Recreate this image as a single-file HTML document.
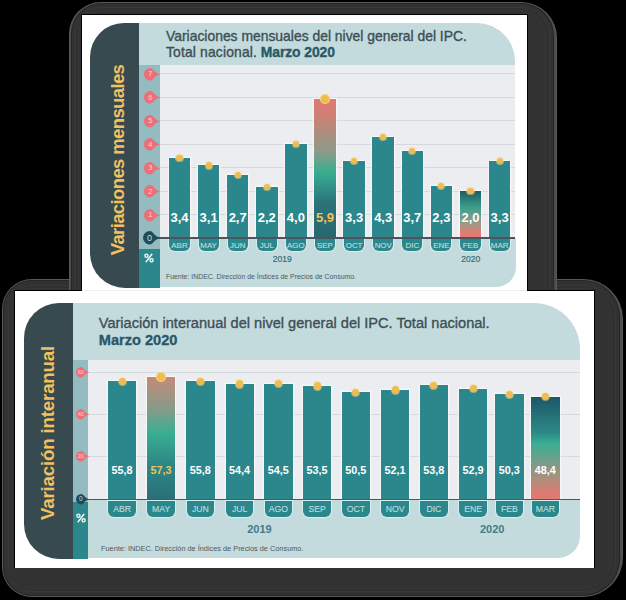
<!DOCTYPE html>
<html><head><meta charset="utf-8"><style>
html,body{margin:0;padding:0;width:626px;height:600px;overflow:hidden;background:#000;}
</style></head><body>
<div style="position:relative;width:626px;height:600px;overflow:hidden;">
<div style="position:absolute;left:0;top:0;width:626px;height:600px;background:#000;"></div>
<div style="position:absolute;left:2.00px;top:279.00px;width:621.20px;height:318.00px;background:#585858;border-radius:30px 40px 40px 30px;"></div>
<div style="position:absolute;left:2.90px;top:279.90px;width:619.40px;height:316.20px;background:#4b4b4b;border-radius:29.1px 39.1px 39.1px 29.1px;"></div>
<div style="position:absolute;left:3.20px;top:280.20px;width:616.80px;height:315.60px;background:#262626;border-radius:28.8px 36.8px 36.8px 28.8px;"></div>
<div style="position:absolute;left:4.20px;top:281.20px;width:614.80px;height:313.60px;background:#323232;border-radius:27.8px 35.8px 35.8px 27.8px;"></div>
<div style="position:absolute;left:7.50px;top:284.50px;width:608.20px;height:307.00px;background:#383838;border-radius:24.5px 32.5px 32.5px 24.5px;"></div>
<div style="position:absolute;left:8.50px;top:285.50px;width:606.20px;height:305.00px;background:#303030;border-radius:23.5px 31.5px 31.5px 23.5px;"></div>
<div style="position:absolute;left:10.50px;top:287.50px;width:601.70px;height:301.00px;background:#373737;border-radius:21.5px 29px 29px 21.5px;"></div>
<div style="position:absolute;left:11.50px;top:288.50px;width:599.70px;height:299.00px;background:#323232;border-radius:20.5px 28px 28px 20.5px;"></div>
<div style="position:absolute;left:69.30px;top:1.80px;width:488.00px;height:328.20px;background:#585858;border-radius:32px 36px 36px 32px;"></div>
<div style="position:absolute;left:70.20px;top:2.70px;width:486.20px;height:326.40px;background:#4b4b4b;border-radius:31.1px 35.1px 35.1px 31.1px;"></div>
<div style="position:absolute;left:70.50px;top:3.00px;width:483.60px;height:325.80px;background:#262626;border-radius:30.8px 32.8px 32.8px 30.8px;"></div>
<div style="position:absolute;left:71.50px;top:4.00px;width:481.60px;height:323.80px;background:#323232;border-radius:29.8px 31.8px 31.8px 29.8px;"></div>
<div style="position:absolute;left:74.80px;top:7.30px;width:475.00px;height:317.20px;background:#383838;border-radius:26.5px 28.5px 28.5px 26.5px;"></div>
<div style="position:absolute;left:75.80px;top:8.30px;width:473.00px;height:315.20px;background:#303030;border-radius:25.5px 27.5px 27.5px 25.5px;"></div>
<div style="position:absolute;left:77.80px;top:10.30px;width:468.50px;height:311.20px;background:#373737;border-radius:23.5px 25px 25px 23.5px;"></div>
<div style="position:absolute;left:78.80px;top:11.30px;width:466.50px;height:309.20px;background:#323232;border-radius:22.5px 24px 24px 22.5px;"></div>
<div style="position:absolute;left:81.00px;top:13.70px;width:447.00px;height:290.00px;background:#000;"></div>
<div style="position:absolute;left:82.00px;top:14.50px;width:445.00px;height:277.00px;background:#fff;"></div>
<div style="position:absolute;left:89.50px;top:23.00px;width:60.00px;height:264.50px;background:#374a4f;border-radius:34px 0 0 35px;"></div>
<div style="position:absolute;left:139.00px;top:23.00px;width:375.50px;height:41.50px;background:#c4dbde;border-radius:0 38px 0 0;"></div>
<div style="position:absolute;left:139.00px;top:64.50px;width:20.50px;height:184.00px;background:#94bbc0;"></div>
<div style="position:absolute;left:139.00px;top:248.50px;width:20.50px;height:39.00px;background:#2c878d;"></div>
<div style="position:absolute;left:159.50px;top:64.50px;width:355.00px;height:173.50px;background:#ecedf0;"></div>
<div style="position:absolute;left:159.50px;top:238.00px;width:356.25px;height:48.50px;background:#c4dbde;border-radius:0 0 20px 0;"></div>
<div style="position:absolute;left:159.50px;top:214.20px;width:355.00px;height:1.20px;background:#d6d9dc;"></div>
<div style="position:absolute;left:159.50px;top:190.70px;width:355.00px;height:1.20px;background:#d6d9dc;"></div>
<div style="position:absolute;left:159.50px;top:167.20px;width:355.00px;height:1.20px;background:#d6d9dc;"></div>
<div style="position:absolute;left:159.50px;top:143.70px;width:355.00px;height:1.20px;background:#d6d9dc;"></div>
<div style="position:absolute;left:159.50px;top:120.20px;width:355.00px;height:1.20px;background:#d6d9dc;"></div>
<div style="position:absolute;left:159.50px;top:96.70px;width:355.00px;height:1.20px;background:#d6d9dc;"></div>
<div style="position:absolute;left:159.50px;top:73.20px;width:355.00px;height:1.20px;background:#d6d9dc;"></div>
<div style="position:absolute;left:166.00px;top:28.00px;white-space:nowrap;line-height:1;font-family:'Liberation Sans', sans-serif;font-size:13.9px;line-height:16.3px;color:#3d4f55;-webkit-text-stroke:0.35px #3d4f55;">Variaciones mensuales del nivel general del IPC.<br><span style="letter-spacing:0.15px">Total nacional.</span><b style="color:#1f5d6c;margin-left:3.7px;letter-spacing:-0.08px">Marzo 2020</b></div>
<div style="position:absolute;left:118.2px;top:160.3px;width:0;height:0;"><div style="position:absolute;left:0;top:0;transform:translate(-50%,-50%) rotate(-90deg);white-space:nowrap;font-family:'Liberation Sans', sans-serif;font-weight:bold;font-size:18.5px;letter-spacing:-0.62px;line-height:1;color:#f2c060;">Variaciones mensuales</div></div>
<svg style="position:absolute;left:143.25px;top:251.50px" width="12" height="12" viewBox="-6 -6 12 12"><g transform="scale(1.0)" fill="none" stroke="#eef6f6"><circle cx="-2.6" cy="-2.3" r="1.55" stroke-width="1.4"/><circle cx="2.6" cy="2.3" r="1.55" stroke-width="1.4"/><path d="M3.2,-4.3 L-3.2,4.3" stroke-width="1.5"/></g></svg>
<div style="position:absolute;left:168.75px;top:158.40px;width:21.50px;height:79.20px;background:#2c878d;box-shadow:0 0 1.2px 0.6px rgba(255,255,255,0.7);"></div>
<div style="position:absolute;left:176.40px;top:155.30px;width:6.20px;height:6.20px;background:#f0bb4f;border-radius:50%;box-shadow:0 0 0 1px rgba(250,215,140,0.55);"></div>
<div style="position:absolute;left:164.50px;top:210.50px;white-space:nowrap;line-height:1;width:30.00px;text-align:center;font-family:'Liberation Sans', sans-serif;font-weight:bold;font-size:13px;color:#fff;">3,4</div>
<div style="position:absolute;left:169.40px;top:239.20px;width:20.20px;height:12.20px;background:#2c878d;border-radius:0 0 6px 6px;box-shadow:0 0 0 1px #d6eeee;"></div>
<div style="position:absolute;left:164.40px;top:241.55px;white-space:nowrap;line-height:1;width:30.20px;text-align:center;font-family:'Liberation Sans', sans-serif;font-size:7.9px;color:#b8dcdc;-webkit-text-stroke:0.15px #b8dcdc;">ABR</div>
<div style="position:absolute;left:197.85px;top:165.45px;width:21.50px;height:72.15px;background:#2c878d;box-shadow:0 0 1.2px 0.6px rgba(255,255,255,0.7);"></div>
<div style="position:absolute;left:205.50px;top:162.35px;width:6.20px;height:6.20px;background:#f0bb4f;border-radius:50%;box-shadow:0 0 0 1px rgba(250,215,140,0.55);"></div>
<div style="position:absolute;left:193.60px;top:210.50px;white-space:nowrap;line-height:1;width:30.00px;text-align:center;font-family:'Liberation Sans', sans-serif;font-weight:bold;font-size:13px;color:#fff;">3,1</div>
<div style="position:absolute;left:198.50px;top:239.20px;width:20.20px;height:12.20px;background:#2c878d;border-radius:0 0 6px 6px;box-shadow:0 0 0 1px #d6eeee;"></div>
<div style="position:absolute;left:193.50px;top:241.55px;white-space:nowrap;line-height:1;width:30.20px;text-align:center;font-family:'Liberation Sans', sans-serif;font-size:7.9px;color:#b8dcdc;-webkit-text-stroke:0.15px #b8dcdc;">MAY</div>
<div style="position:absolute;left:226.95px;top:174.85px;width:21.50px;height:62.75px;background:#2c878d;box-shadow:0 0 1.2px 0.6px rgba(255,255,255,0.7);"></div>
<div style="position:absolute;left:234.60px;top:171.75px;width:6.20px;height:6.20px;background:#f0bb4f;border-radius:50%;box-shadow:0 0 0 1px rgba(250,215,140,0.55);"></div>
<div style="position:absolute;left:222.70px;top:210.50px;white-space:nowrap;line-height:1;width:30.00px;text-align:center;font-family:'Liberation Sans', sans-serif;font-weight:bold;font-size:13px;color:#fff;">2,7</div>
<div style="position:absolute;left:227.60px;top:239.20px;width:20.20px;height:12.20px;background:#2c878d;border-radius:0 0 6px 6px;box-shadow:0 0 0 1px #d6eeee;"></div>
<div style="position:absolute;left:222.60px;top:241.55px;white-space:nowrap;line-height:1;width:30.20px;text-align:center;font-family:'Liberation Sans', sans-serif;font-size:7.9px;color:#b8dcdc;-webkit-text-stroke:0.15px #b8dcdc;">JUN</div>
<div style="position:absolute;left:256.05px;top:186.60px;width:21.50px;height:51.00px;background:#2c878d;box-shadow:0 0 1.2px 0.6px rgba(255,255,255,0.7);"></div>
<div style="position:absolute;left:263.70px;top:183.50px;width:6.20px;height:6.20px;background:#f0bb4f;border-radius:50%;box-shadow:0 0 0 1px rgba(250,215,140,0.55);"></div>
<div style="position:absolute;left:251.80px;top:210.50px;white-space:nowrap;line-height:1;width:30.00px;text-align:center;font-family:'Liberation Sans', sans-serif;font-weight:bold;font-size:13px;color:#fff;">2,2</div>
<div style="position:absolute;left:256.70px;top:239.20px;width:20.20px;height:12.20px;background:#2c878d;border-radius:0 0 6px 6px;box-shadow:0 0 0 1px #d6eeee;"></div>
<div style="position:absolute;left:251.70px;top:241.55px;white-space:nowrap;line-height:1;width:30.20px;text-align:center;font-family:'Liberation Sans', sans-serif;font-size:7.9px;color:#b8dcdc;-webkit-text-stroke:0.15px #b8dcdc;">JUL</div>
<div style="position:absolute;left:285.15px;top:144.30px;width:21.50px;height:93.30px;background:#2c878d;box-shadow:0 0 1.2px 0.6px rgba(255,255,255,0.7);"></div>
<div style="position:absolute;left:292.80px;top:141.20px;width:6.20px;height:6.20px;background:#f0bb4f;border-radius:50%;box-shadow:0 0 0 1px rgba(250,215,140,0.55);"></div>
<div style="position:absolute;left:280.90px;top:210.50px;white-space:nowrap;line-height:1;width:30.00px;text-align:center;font-family:'Liberation Sans', sans-serif;font-weight:bold;font-size:13px;color:#fff;">4,0</div>
<div style="position:absolute;left:285.80px;top:239.20px;width:20.20px;height:12.20px;background:#2c878d;border-radius:0 0 6px 6px;box-shadow:0 0 0 1px #d6eeee;"></div>
<div style="position:absolute;left:280.80px;top:241.55px;white-space:nowrap;line-height:1;width:30.20px;text-align:center;font-family:'Liberation Sans', sans-serif;font-size:7.9px;color:#b8dcdc;-webkit-text-stroke:0.15px #b8dcdc;">AGO</div>
<div style="position:absolute;left:314.25px;top:98.90px;width:21.50px;height:138.70px;background:linear-gradient(to bottom,#e07a70 0%,#cf8076 12%,#a8907e 26%,#8d9a88 38%,#3aae8e 52%,#33958a 62%,#2a7376 75%,#286870 100%);box-shadow:0 0 1.2px 0.6px rgba(255,255,255,0.7);"></div>
<div style="position:absolute;left:319.80px;top:93.70px;width:10.40px;height:10.40px;background:#f3d27a;border-radius:50%;"></div>
<div style="position:absolute;left:321.00px;top:94.90px;width:8.00px;height:8.00px;background:#f0bb4f;border-radius:50%;box-shadow:0 0 0 1px rgba(250,215,140,0.55);"></div>
<div style="position:absolute;left:310.00px;top:210.50px;white-space:nowrap;line-height:1;width:30.00px;text-align:center;font-family:'Liberation Sans', sans-serif;font-weight:bold;font-size:13px;color:#f0c35a;">5,9</div>
<div style="position:absolute;left:314.90px;top:239.20px;width:20.20px;height:12.20px;background:#2c878d;border-radius:0 0 6px 6px;box-shadow:0 0 0 1px #d6eeee;"></div>
<div style="position:absolute;left:309.90px;top:241.55px;white-space:nowrap;line-height:1;width:30.20px;text-align:center;font-family:'Liberation Sans', sans-serif;font-size:7.9px;color:#b8dcdc;-webkit-text-stroke:0.15px #b8dcdc;">SEP</div>
<div style="position:absolute;left:343.35px;top:160.75px;width:21.50px;height:76.85px;background:#2c878d;box-shadow:0 0 1.2px 0.6px rgba(255,255,255,0.7);"></div>
<div style="position:absolute;left:351.00px;top:157.65px;width:6.20px;height:6.20px;background:#f0bb4f;border-radius:50%;box-shadow:0 0 0 1px rgba(250,215,140,0.55);"></div>
<div style="position:absolute;left:339.10px;top:210.50px;white-space:nowrap;line-height:1;width:30.00px;text-align:center;font-family:'Liberation Sans', sans-serif;font-weight:bold;font-size:13px;color:#fff;">3,3</div>
<div style="position:absolute;left:344.00px;top:239.20px;width:20.20px;height:12.20px;background:#2c878d;border-radius:0 0 6px 6px;box-shadow:0 0 0 1px #d6eeee;"></div>
<div style="position:absolute;left:339.00px;top:241.55px;white-space:nowrap;line-height:1;width:30.20px;text-align:center;font-family:'Liberation Sans', sans-serif;font-size:7.9px;color:#b8dcdc;-webkit-text-stroke:0.15px #b8dcdc;">OCT</div>
<div style="position:absolute;left:372.45px;top:137.25px;width:21.50px;height:100.35px;background:#2c878d;box-shadow:0 0 1.2px 0.6px rgba(255,255,255,0.7);"></div>
<div style="position:absolute;left:380.10px;top:134.15px;width:6.20px;height:6.20px;background:#f0bb4f;border-radius:50%;box-shadow:0 0 0 1px rgba(250,215,140,0.55);"></div>
<div style="position:absolute;left:368.20px;top:210.50px;white-space:nowrap;line-height:1;width:30.00px;text-align:center;font-family:'Liberation Sans', sans-serif;font-weight:bold;font-size:13px;color:#fff;">4,3</div>
<div style="position:absolute;left:373.10px;top:239.20px;width:20.20px;height:12.20px;background:#2c878d;border-radius:0 0 6px 6px;box-shadow:0 0 0 1px #d6eeee;"></div>
<div style="position:absolute;left:368.10px;top:241.55px;white-space:nowrap;line-height:1;width:30.20px;text-align:center;font-family:'Liberation Sans', sans-serif;font-size:7.9px;color:#b8dcdc;-webkit-text-stroke:0.15px #b8dcdc;">NOV</div>
<div style="position:absolute;left:401.55px;top:151.35px;width:21.50px;height:86.25px;background:#2c878d;box-shadow:0 0 1.2px 0.6px rgba(255,255,255,0.7);"></div>
<div style="position:absolute;left:409.20px;top:148.25px;width:6.20px;height:6.20px;background:#f0bb4f;border-radius:50%;box-shadow:0 0 0 1px rgba(250,215,140,0.55);"></div>
<div style="position:absolute;left:397.30px;top:210.50px;white-space:nowrap;line-height:1;width:30.00px;text-align:center;font-family:'Liberation Sans', sans-serif;font-weight:bold;font-size:13px;color:#fff;">3,7</div>
<div style="position:absolute;left:402.20px;top:239.20px;width:20.20px;height:12.20px;background:#2c878d;border-radius:0 0 6px 6px;box-shadow:0 0 0 1px #d6eeee;"></div>
<div style="position:absolute;left:397.20px;top:241.55px;white-space:nowrap;line-height:1;width:30.20px;text-align:center;font-family:'Liberation Sans', sans-serif;font-size:7.9px;color:#b8dcdc;-webkit-text-stroke:0.15px #b8dcdc;">DIC</div>
<div style="position:absolute;left:430.65px;top:185.60px;width:21.50px;height:52.00px;background:#2c878d;box-shadow:0 0 1.2px 0.6px rgba(255,255,255,0.7);"></div>
<div style="position:absolute;left:438.30px;top:182.50px;width:6.20px;height:6.20px;background:#f0bb4f;border-radius:50%;box-shadow:0 0 0 1px rgba(250,215,140,0.55);"></div>
<div style="position:absolute;left:426.40px;top:210.50px;white-space:nowrap;line-height:1;width:30.00px;text-align:center;font-family:'Liberation Sans', sans-serif;font-weight:bold;font-size:13px;color:#fff;">2,3</div>
<div style="position:absolute;left:431.30px;top:239.20px;width:20.20px;height:12.20px;background:#2c878d;border-radius:0 0 6px 6px;box-shadow:0 0 0 1px #d6eeee;"></div>
<div style="position:absolute;left:426.30px;top:241.55px;white-space:nowrap;line-height:1;width:30.20px;text-align:center;font-family:'Liberation Sans', sans-serif;font-size:7.9px;color:#b8dcdc;-webkit-text-stroke:0.15px #b8dcdc;">ENE</div>
<div style="position:absolute;left:459.75px;top:191.30px;width:21.50px;height:46.30px;background:linear-gradient(to bottom,#1f5a66 0%,#3aa08a 35%,#9c9a84 70%,#e27b72 88%,#e27b72 100%);box-shadow:0 0 1.2px 0.6px rgba(255,255,255,0.7);"></div>
<div style="position:absolute;left:467.40px;top:188.20px;width:6.20px;height:6.20px;background:#f0bb4f;border-radius:50%;box-shadow:0 0 0 1px rgba(250,215,140,0.55);"></div>
<div style="position:absolute;left:455.50px;top:210.50px;white-space:nowrap;line-height:1;width:30.00px;text-align:center;font-family:'Liberation Sans', sans-serif;font-weight:bold;font-size:13px;color:#fff;">2,0</div>
<div style="position:absolute;left:460.40px;top:239.20px;width:20.20px;height:12.20px;background:#2c878d;border-radius:0 0 6px 6px;box-shadow:0 0 0 1px #d6eeee;"></div>
<div style="position:absolute;left:455.40px;top:241.55px;white-space:nowrap;line-height:1;width:30.20px;text-align:center;font-family:'Liberation Sans', sans-serif;font-size:7.9px;color:#b8dcdc;-webkit-text-stroke:0.15px #b8dcdc;">FEB</div>
<div style="position:absolute;left:488.85px;top:160.75px;width:21.50px;height:76.85px;background:#2c878d;box-shadow:0 0 1.2px 0.6px rgba(255,255,255,0.7);"></div>
<div style="position:absolute;left:496.50px;top:157.65px;width:6.20px;height:6.20px;background:#f0bb4f;border-radius:50%;box-shadow:0 0 0 1px rgba(250,215,140,0.55);"></div>
<div style="position:absolute;left:484.60px;top:210.50px;white-space:nowrap;line-height:1;width:30.00px;text-align:center;font-family:'Liberation Sans', sans-serif;font-weight:bold;font-size:13px;color:#fff;">3,3</div>
<div style="position:absolute;left:489.50px;top:239.20px;width:20.20px;height:12.20px;background:#2c878d;border-radius:0 0 6px 6px;box-shadow:0 0 0 1px #d6eeee;"></div>
<div style="position:absolute;left:484.50px;top:241.55px;white-space:nowrap;line-height:1;width:30.20px;text-align:center;font-family:'Liberation Sans', sans-serif;font-size:7.9px;color:#b8dcdc;-webkit-text-stroke:0.15px #b8dcdc;">MAR</div>
<div style="position:absolute;left:155.00px;top:237.40px;width:359.50px;height:1.20px;background:#4a5560;"></div>
<svg style="position:absolute;left:143.00px;top:207.50px" width="19.01" height="14.60"><path d="M7.30,1.00 A6.3,6.3 0 1 0 7.30,13.60 C10.45,13.60 11.08,8.56 17.38,7.30 C11.08,6.04 10.45,1 7.30,1 Z" fill="#ec6e76"/></svg>
<div style="position:absolute;left:140.30px;top:211.05px;white-space:nowrap;line-height:1;width:20.00px;text-align:center;font-family:'Liberation Sans', sans-serif;font-size:7.5px;color:#f7d6d6;">1</div>
<svg style="position:absolute;left:143.00px;top:184.00px" width="19.01" height="14.60"><path d="M7.30,1.00 A6.3,6.3 0 1 0 7.30,13.60 C10.45,13.60 11.08,8.56 17.38,7.30 C11.08,6.04 10.45,1 7.30,1 Z" fill="#ec6e76"/></svg>
<div style="position:absolute;left:140.30px;top:187.55px;white-space:nowrap;line-height:1;width:20.00px;text-align:center;font-family:'Liberation Sans', sans-serif;font-size:7.5px;color:#f7d6d6;">2</div>
<svg style="position:absolute;left:143.00px;top:160.50px" width="19.01" height="14.60"><path d="M7.30,1.00 A6.3,6.3 0 1 0 7.30,13.60 C10.45,13.60 11.08,8.56 17.38,7.30 C11.08,6.04 10.45,1 7.30,1 Z" fill="#ec6e76"/></svg>
<div style="position:absolute;left:140.30px;top:164.05px;white-space:nowrap;line-height:1;width:20.00px;text-align:center;font-family:'Liberation Sans', sans-serif;font-size:7.5px;color:#f7d6d6;">3</div>
<svg style="position:absolute;left:143.00px;top:137.00px" width="19.01" height="14.60"><path d="M7.30,1.00 A6.3,6.3 0 1 0 7.30,13.60 C10.45,13.60 11.08,8.56 17.38,7.30 C11.08,6.04 10.45,1 7.30,1 Z" fill="#ec6e76"/></svg>
<div style="position:absolute;left:140.30px;top:140.55px;white-space:nowrap;line-height:1;width:20.00px;text-align:center;font-family:'Liberation Sans', sans-serif;font-size:7.5px;color:#f7d6d6;">4</div>
<svg style="position:absolute;left:143.00px;top:113.50px" width="19.01" height="14.60"><path d="M7.30,1.00 A6.3,6.3 0 1 0 7.30,13.60 C10.45,13.60 11.08,8.56 17.38,7.30 C11.08,6.04 10.45,1 7.30,1 Z" fill="#ec6e76"/></svg>
<div style="position:absolute;left:140.30px;top:117.05px;white-space:nowrap;line-height:1;width:20.00px;text-align:center;font-family:'Liberation Sans', sans-serif;font-size:7.5px;color:#f7d6d6;">5</div>
<svg style="position:absolute;left:143.00px;top:90.00px" width="19.01" height="14.60"><path d="M7.30,1.00 A6.3,6.3 0 1 0 7.30,13.60 C10.45,13.60 11.08,8.56 17.38,7.30 C11.08,6.04 10.45,1 7.30,1 Z" fill="#ec6e76"/></svg>
<div style="position:absolute;left:140.30px;top:93.55px;white-space:nowrap;line-height:1;width:20.00px;text-align:center;font-family:'Liberation Sans', sans-serif;font-size:7.5px;color:#f7d6d6;">6</div>
<svg style="position:absolute;left:143.00px;top:66.50px" width="19.01" height="14.60"><path d="M7.30,1.00 A6.3,6.3 0 1 0 7.30,13.60 C10.45,13.60 11.08,8.56 17.38,7.30 C11.08,6.04 10.45,1 7.30,1 Z" fill="#ec6e76"/></svg>
<div style="position:absolute;left:140.30px;top:70.05px;white-space:nowrap;line-height:1;width:20.00px;text-align:center;font-family:'Liberation Sans', sans-serif;font-size:7.5px;color:#f7d6d6;">7</div>
<svg style="position:absolute;left:141.70px;top:230.20px" width="20.36" height="15.60"><path d="M7.80,1.00 A6.8,6.8 0 1 0 7.80,14.60 C11.20,14.60 11.88,9.16 18.68,7.80 C11.88,6.44 11.20,1 7.80,1 Z" fill="#1d4d5a"/></svg>
<div style="position:absolute;left:139.50px;top:233.50px;white-space:nowrap;line-height:1;width:20.00px;text-align:center;font-family:'Liberation Sans', sans-serif;font-size:9px;color:#c9dde0;">0</div>
<div style="position:absolute;left:272.80px;top:255.30px;white-space:nowrap;line-height:1;font-family:'Liberation Sans', sans-serif;font-size:8.5px;color:#356e78;-webkit-text-stroke:0.2px #356e78;">2019</div>
<div style="position:absolute;left:461.30px;top:255.30px;white-space:nowrap;line-height:1;font-family:'Liberation Sans', sans-serif;font-size:8.5px;color:#356e78;-webkit-text-stroke:0.2px #356e78;">2020</div>
<div style="position:absolute;left:166.00px;top:274.30px;white-space:nowrap;line-height:1;font-family:'Liberation Sans', sans-serif;font-size:6.9px;color:#4a5a60;">Fuente: INDEC. Dirección de Índices de Precios de Consumo.</div>
<div style="position:absolute;left:14.40px;top:290.20px;width:580.40px;height:278.20px;background:#000;"></div>
<div style="position:absolute;left:82.00px;top:290.20px;width:445.00px;height:2.00px;background:#eee;"></div>
<div style="position:absolute;left:15.20px;top:291.00px;width:578.80px;height:276.60px;background:#fff;"></div>
<div style="position:absolute;left:23.75px;top:302.50px;width:60.00px;height:256.25px;background:#374a4f;border-radius:35px 0 0 35px;"></div>
<div style="position:absolute;left:73.00px;top:302.50px;width:507.00px;height:57.50px;background:#c4dbde;border-radius:0 46px 0 0;"></div>
<div style="position:absolute;left:73.00px;top:360.00px;width:15.00px;height:142.00px;background:#94bbc0;"></div>
<div style="position:absolute;left:73.00px;top:502.00px;width:15.00px;height:57.00px;background:#2c878d;"></div>
<div style="position:absolute;left:88.00px;top:360.00px;width:492.00px;height:139.00px;background:#ecedf0;"></div>
<div style="position:absolute;left:88.00px;top:499.00px;width:492.00px;height:59.00px;background:#c4dbde;border-radius:0 0 22px 0;"></div>
<div style="position:absolute;left:88.00px;top:455.70px;width:492.00px;height:1.20px;background:#d6d9dc;"></div>
<div style="position:absolute;left:88.00px;top:413.70px;width:492.00px;height:1.20px;background:#d6d9dc;"></div>
<div style="position:absolute;left:88.00px;top:371.70px;width:492.00px;height:1.20px;background:#d6d9dc;"></div>
<div style="position:absolute;left:98.75px;top:314.60px;white-space:nowrap;line-height:1;font-family:'Liberation Sans', sans-serif;font-size:14.58px;line-height:17.2px;color:#3d4f55;-webkit-text-stroke:0.35px #3d4f55;">Variación interanual del nivel general del IPC. Total nacional.<br><b style="color:#1f5d6c">Marzo 2020</b></div>
<div style="position:absolute;left:47.8px;top:433.0px;width:0;height:0;"><div style="position:absolute;left:0;top:0;transform:translate(-50%,-50%) rotate(-90deg);white-space:nowrap;font-family:'Liberation Sans', sans-serif;font-weight:bold;font-size:18.7px;letter-spacing:-0.17px;line-height:1;color:#f2c060;">Variación interanual</div></div>
<svg style="position:absolute;left:75.10px;top:511.80px" width="12" height="12" viewBox="-6 -6 12 12"><g transform="scale(1.0)" fill="none" stroke="#eef6f6"><circle cx="-2.6" cy="-2.3" r="1.55" stroke-width="1.4"/><circle cx="2.6" cy="2.3" r="1.55" stroke-width="1.4"/><path d="M3.2,-4.3 L-3.2,4.3" stroke-width="1.5"/></g></svg>
<div style="position:absolute;left:108.00px;top:381.12px;width:28.25px;height:117.78px;background:#2c878d;box-shadow:0 0 1.2px 0.6px rgba(255,255,255,0.7);"></div>
<div style="position:absolute;left:118.53px;top:377.52px;width:7.20px;height:7.20px;background:#f0bb4f;border-radius:50%;box-shadow:0 0 0 1px rgba(250,215,140,0.55);"></div>
<div style="position:absolute;left:102.12px;top:464.50px;white-space:nowrap;line-height:1;width:40.00px;text-align:center;font-family:'Liberation Sans', sans-serif;font-weight:bold;font-size:10.8px;color:#fff;">55,8</div>
<div style="position:absolute;left:108.38px;top:501.00px;width:27.50px;height:16.00px;background:#2c878d;border-radius:0 0 6px 6px;box-shadow:0 0 0 1px #d6eeee;"></div>
<div style="position:absolute;left:103.38px;top:504.85px;white-space:nowrap;line-height:1;width:37.50px;text-align:center;font-family:'Liberation Sans', sans-serif;font-size:8.7px;color:#b8dcdc;-webkit-text-stroke:0.15px #b8dcdc;">ABR</div>
<div style="position:absolute;left:147.00px;top:376.70px;width:28.25px;height:122.20px;background:linear-gradient(to bottom,#c48a7a 0%,#8a9a88 25%,#3aae92 46%,#2d8a86 70%,#2a6f78 100%);box-shadow:0 0 1.2px 0.6px rgba(255,255,255,0.7);"></div>
<div style="position:absolute;left:156.12px;top:371.70px;width:10.00px;height:10.00px;background:#f3d27a;border-radius:50%;"></div>
<div style="position:absolute;left:157.12px;top:372.70px;width:8.00px;height:8.00px;background:#f0bb4f;border-radius:50%;box-shadow:0 0 0 1px rgba(250,215,140,0.55);"></div>
<div style="position:absolute;left:141.12px;top:464.50px;white-space:nowrap;line-height:1;width:40.00px;text-align:center;font-family:'Liberation Sans', sans-serif;font-weight:bold;font-size:10.8px;color:#f0c35a;">57,3</div>
<div style="position:absolute;left:147.38px;top:501.00px;width:27.50px;height:16.00px;background:#2c878d;border-radius:0 0 6px 6px;box-shadow:0 0 0 1px #d6eeee;"></div>
<div style="position:absolute;left:142.38px;top:504.85px;white-space:nowrap;line-height:1;width:37.50px;text-align:center;font-family:'Liberation Sans', sans-serif;font-size:8.7px;color:#b8dcdc;-webkit-text-stroke:0.15px #b8dcdc;">MAY</div>
<div style="position:absolute;left:186.25px;top:381.12px;width:28.25px;height:117.78px;background:#2c878d;box-shadow:0 0 1.2px 0.6px rgba(255,255,255,0.7);"></div>
<div style="position:absolute;left:196.78px;top:377.52px;width:7.20px;height:7.20px;background:#f0bb4f;border-radius:50%;box-shadow:0 0 0 1px rgba(250,215,140,0.55);"></div>
<div style="position:absolute;left:180.38px;top:464.50px;white-space:nowrap;line-height:1;width:40.00px;text-align:center;font-family:'Liberation Sans', sans-serif;font-weight:bold;font-size:10.8px;color:#fff;">55,8</div>
<div style="position:absolute;left:186.62px;top:501.00px;width:27.50px;height:16.00px;background:#2c878d;border-radius:0 0 6px 6px;box-shadow:0 0 0 1px #d6eeee;"></div>
<div style="position:absolute;left:181.62px;top:504.85px;white-space:nowrap;line-height:1;width:37.50px;text-align:center;font-family:'Liberation Sans', sans-serif;font-size:8.7px;color:#b8dcdc;-webkit-text-stroke:0.15px #b8dcdc;">JUN</div>
<div style="position:absolute;left:225.50px;top:384.06px;width:28.25px;height:114.84px;background:#2c878d;box-shadow:0 0 1.2px 0.6px rgba(255,255,255,0.7);"></div>
<div style="position:absolute;left:236.03px;top:380.46px;width:7.20px;height:7.20px;background:#f0bb4f;border-radius:50%;box-shadow:0 0 0 1px rgba(250,215,140,0.55);"></div>
<div style="position:absolute;left:219.62px;top:464.50px;white-space:nowrap;line-height:1;width:40.00px;text-align:center;font-family:'Liberation Sans', sans-serif;font-weight:bold;font-size:10.8px;color:#fff;">54,4</div>
<div style="position:absolute;left:225.88px;top:501.00px;width:27.50px;height:16.00px;background:#2c878d;border-radius:0 0 6px 6px;box-shadow:0 0 0 1px #d6eeee;"></div>
<div style="position:absolute;left:220.88px;top:504.85px;white-space:nowrap;line-height:1;width:37.50px;text-align:center;font-family:'Liberation Sans', sans-serif;font-size:8.7px;color:#b8dcdc;-webkit-text-stroke:0.15px #b8dcdc;">JUL</div>
<div style="position:absolute;left:264.25px;top:383.85px;width:28.25px;height:115.05px;background:#2c878d;box-shadow:0 0 1.2px 0.6px rgba(255,255,255,0.7);"></div>
<div style="position:absolute;left:274.77px;top:380.25px;width:7.20px;height:7.20px;background:#f0bb4f;border-radius:50%;box-shadow:0 0 0 1px rgba(250,215,140,0.55);"></div>
<div style="position:absolute;left:258.38px;top:464.50px;white-space:nowrap;line-height:1;width:40.00px;text-align:center;font-family:'Liberation Sans', sans-serif;font-weight:bold;font-size:10.8px;color:#fff;">54,5</div>
<div style="position:absolute;left:264.62px;top:501.00px;width:27.50px;height:16.00px;background:#2c878d;border-radius:0 0 6px 6px;box-shadow:0 0 0 1px #d6eeee;"></div>
<div style="position:absolute;left:259.62px;top:504.85px;white-space:nowrap;line-height:1;width:37.50px;text-align:center;font-family:'Liberation Sans', sans-serif;font-size:8.7px;color:#b8dcdc;-webkit-text-stroke:0.15px #b8dcdc;">AGO</div>
<div style="position:absolute;left:303.00px;top:385.95px;width:28.25px;height:112.95px;background:#2c878d;box-shadow:0 0 1.2px 0.6px rgba(255,255,255,0.7);"></div>
<div style="position:absolute;left:313.52px;top:382.35px;width:7.20px;height:7.20px;background:#f0bb4f;border-radius:50%;box-shadow:0 0 0 1px rgba(250,215,140,0.55);"></div>
<div style="position:absolute;left:297.12px;top:464.50px;white-space:nowrap;line-height:1;width:40.00px;text-align:center;font-family:'Liberation Sans', sans-serif;font-weight:bold;font-size:10.8px;color:#fff;">53,5</div>
<div style="position:absolute;left:303.38px;top:501.00px;width:27.50px;height:16.00px;background:#2c878d;border-radius:0 0 6px 6px;box-shadow:0 0 0 1px #d6eeee;"></div>
<div style="position:absolute;left:298.38px;top:504.85px;white-space:nowrap;line-height:1;width:37.50px;text-align:center;font-family:'Liberation Sans', sans-serif;font-size:8.7px;color:#b8dcdc;-webkit-text-stroke:0.15px #b8dcdc;">SEP</div>
<div style="position:absolute;left:341.75px;top:392.25px;width:28.25px;height:106.65px;background:#2c878d;box-shadow:0 0 1.2px 0.6px rgba(255,255,255,0.7);"></div>
<div style="position:absolute;left:352.27px;top:388.65px;width:7.20px;height:7.20px;background:#f0bb4f;border-radius:50%;box-shadow:0 0 0 1px rgba(250,215,140,0.55);"></div>
<div style="position:absolute;left:335.88px;top:464.50px;white-space:nowrap;line-height:1;width:40.00px;text-align:center;font-family:'Liberation Sans', sans-serif;font-weight:bold;font-size:10.8px;color:#fff;">50,5</div>
<div style="position:absolute;left:342.12px;top:501.00px;width:27.50px;height:16.00px;background:#2c878d;border-radius:0 0 6px 6px;box-shadow:0 0 0 1px #d6eeee;"></div>
<div style="position:absolute;left:337.12px;top:504.85px;white-space:nowrap;line-height:1;width:37.50px;text-align:center;font-family:'Liberation Sans', sans-serif;font-size:8.7px;color:#b8dcdc;-webkit-text-stroke:0.15px #b8dcdc;">OCT</div>
<div style="position:absolute;left:381.00px;top:390.00px;width:28.25px;height:108.90px;background:#2c878d;box-shadow:0 0 1.2px 0.6px rgba(255,255,255,0.7);"></div>
<div style="position:absolute;left:391.52px;top:386.40px;width:7.20px;height:7.20px;background:#f0bb4f;border-radius:50%;box-shadow:0 0 0 1px rgba(250,215,140,0.55);"></div>
<div style="position:absolute;left:375.12px;top:464.50px;white-space:nowrap;line-height:1;width:40.00px;text-align:center;font-family:'Liberation Sans', sans-serif;font-weight:bold;font-size:10.8px;color:#fff;">52,1</div>
<div style="position:absolute;left:381.38px;top:501.00px;width:27.50px;height:16.00px;background:#2c878d;border-radius:0 0 6px 6px;box-shadow:0 0 0 1px #d6eeee;"></div>
<div style="position:absolute;left:376.38px;top:504.85px;white-space:nowrap;line-height:1;width:37.50px;text-align:center;font-family:'Liberation Sans', sans-serif;font-size:8.7px;color:#b8dcdc;-webkit-text-stroke:0.15px #b8dcdc;">NOV</div>
<div style="position:absolute;left:419.75px;top:385.32px;width:28.25px;height:113.58px;background:#2c878d;box-shadow:0 0 1.2px 0.6px rgba(255,255,255,0.7);"></div>
<div style="position:absolute;left:430.27px;top:381.72px;width:7.20px;height:7.20px;background:#f0bb4f;border-radius:50%;box-shadow:0 0 0 1px rgba(250,215,140,0.55);"></div>
<div style="position:absolute;left:413.88px;top:464.50px;white-space:nowrap;line-height:1;width:40.00px;text-align:center;font-family:'Liberation Sans', sans-serif;font-weight:bold;font-size:10.8px;color:#fff;">53,8</div>
<div style="position:absolute;left:420.12px;top:501.00px;width:27.50px;height:16.00px;background:#2c878d;border-radius:0 0 6px 6px;box-shadow:0 0 0 1px #d6eeee;"></div>
<div style="position:absolute;left:415.12px;top:504.85px;white-space:nowrap;line-height:1;width:37.50px;text-align:center;font-family:'Liberation Sans', sans-serif;font-size:8.7px;color:#b8dcdc;-webkit-text-stroke:0.15px #b8dcdc;">DIC</div>
<div style="position:absolute;left:459.00px;top:388.75px;width:28.25px;height:110.15px;background:#2c878d;box-shadow:0 0 1.2px 0.6px rgba(255,255,255,0.7);"></div>
<div style="position:absolute;left:469.52px;top:385.15px;width:7.20px;height:7.20px;background:#f0bb4f;border-radius:50%;box-shadow:0 0 0 1px rgba(250,215,140,0.55);"></div>
<div style="position:absolute;left:453.12px;top:464.50px;white-space:nowrap;line-height:1;width:40.00px;text-align:center;font-family:'Liberation Sans', sans-serif;font-weight:bold;font-size:10.8px;color:#fff;">52,9</div>
<div style="position:absolute;left:459.38px;top:501.00px;width:27.50px;height:16.00px;background:#2c878d;border-radius:0 0 6px 6px;box-shadow:0 0 0 1px #d6eeee;"></div>
<div style="position:absolute;left:454.38px;top:504.85px;white-space:nowrap;line-height:1;width:37.50px;text-align:center;font-family:'Liberation Sans', sans-serif;font-size:8.7px;color:#b8dcdc;-webkit-text-stroke:0.15px #b8dcdc;">ENE</div>
<div style="position:absolute;left:495.25px;top:394.25px;width:28.25px;height:104.65px;background:#2c878d;box-shadow:0 0 1.2px 0.6px rgba(255,255,255,0.7);"></div>
<div style="position:absolute;left:505.77px;top:390.65px;width:7.20px;height:7.20px;background:#f0bb4f;border-radius:50%;box-shadow:0 0 0 1px rgba(250,215,140,0.55);"></div>
<div style="position:absolute;left:489.38px;top:464.50px;white-space:nowrap;line-height:1;width:40.00px;text-align:center;font-family:'Liberation Sans', sans-serif;font-weight:bold;font-size:10.8px;color:#fff;">50,3</div>
<div style="position:absolute;left:495.62px;top:501.00px;width:27.50px;height:16.00px;background:#2c878d;border-radius:0 0 6px 6px;box-shadow:0 0 0 1px #d6eeee;"></div>
<div style="position:absolute;left:490.62px;top:504.85px;white-space:nowrap;line-height:1;width:37.50px;text-align:center;font-family:'Liberation Sans', sans-serif;font-size:8.7px;color:#b8dcdc;-webkit-text-stroke:0.15px #b8dcdc;">FEB</div>
<div style="position:absolute;left:531.25px;top:396.66px;width:28.25px;height:102.24px;background:linear-gradient(to bottom,#1e5668 0%,#2b8a85 35%,#3aae92 46%,#7a9c8a 65%,#b48c7c 82%,#e07a70 95%,#e07a70 100%);box-shadow:0 0 1.2px 0.6px rgba(255,255,255,0.7);"></div>
<div style="position:absolute;left:541.77px;top:393.06px;width:7.20px;height:7.20px;background:#f0bb4f;border-radius:50%;box-shadow:0 0 0 1px rgba(250,215,140,0.55);"></div>
<div style="position:absolute;left:525.38px;top:464.50px;white-space:nowrap;line-height:1;width:40.00px;text-align:center;font-family:'Liberation Sans', sans-serif;font-weight:bold;font-size:10.8px;color:#fff;">48,4</div>
<div style="position:absolute;left:531.62px;top:501.00px;width:27.50px;height:16.00px;background:#2c878d;border-radius:0 0 6px 6px;box-shadow:0 0 0 1px #d6eeee;"></div>
<div style="position:absolute;left:526.62px;top:504.85px;white-space:nowrap;line-height:1;width:37.50px;text-align:center;font-family:'Liberation Sans', sans-serif;font-size:8.7px;color:#b8dcdc;-webkit-text-stroke:0.15px #b8dcdc;">MAR</div>
<div style="position:absolute;left:84.00px;top:498.80px;width:496.00px;height:1.60px;background:#4a5a5f;"></div>
<svg style="position:absolute;left:74.55px;top:450.10px" width="16.04" height="12.40"><path d="M6.20,1.00 A5.2,5.2 0 1 0 6.20,11.40 C8.80,11.40 9.32,7.24 14.52,6.20 C9.32,5.16 8.80,1 6.20,1 Z" fill="#ec6e76"/></svg>
<div style="position:absolute;left:70.75px;top:453.55px;white-space:nowrap;line-height:1;width:20.00px;text-align:center;font-family:'Liberation Sans', sans-serif;font-size:5.5px;color:#f7d6d6;">20</div>
<svg style="position:absolute;left:74.55px;top:408.10px" width="16.04" height="12.40"><path d="M6.20,1.00 A5.2,5.2 0 1 0 6.20,11.40 C8.80,11.40 9.32,7.24 14.52,6.20 C9.32,5.16 8.80,1 6.20,1 Z" fill="#ec6e76"/></svg>
<div style="position:absolute;left:70.75px;top:411.55px;white-space:nowrap;line-height:1;width:20.00px;text-align:center;font-family:'Liberation Sans', sans-serif;font-size:5.5px;color:#f7d6d6;">40</div>
<svg style="position:absolute;left:74.55px;top:366.10px" width="16.04" height="12.40"><path d="M6.20,1.00 A5.2,5.2 0 1 0 6.20,11.40 C8.80,11.40 9.32,7.24 14.52,6.20 C9.32,5.16 8.80,1 6.20,1 Z" fill="#ec6e76"/></svg>
<div style="position:absolute;left:70.75px;top:369.55px;white-space:nowrap;line-height:1;width:20.00px;text-align:center;font-family:'Liberation Sans', sans-serif;font-size:5.5px;color:#f7d6d6;">60</div>
<svg style="position:absolute;left:74.55px;top:493.40px" width="16.04" height="12.40"><path d="M6.20,1.00 A5.2,5.2 0 1 0 6.20,11.40 C8.80,11.40 9.32,7.24 14.52,6.20 C9.32,5.16 8.80,1 6.20,1 Z" fill="#1d4d5a"/></svg>
<div style="position:absolute;left:70.75px;top:496.35px;white-space:nowrap;line-height:1;width:20.00px;text-align:center;font-family:'Liberation Sans', sans-serif;font-size:6.5px;color:#c9dde0;">0</div>
<div style="position:absolute;left:247.20px;top:523.50px;white-space:nowrap;line-height:1;font-family:'Liberation Sans', sans-serif;font-weight:bold;font-size:11px;color:#3d7d88;">2019</div>
<div style="position:absolute;left:480.00px;top:523.50px;white-space:nowrap;line-height:1;font-family:'Liberation Sans', sans-serif;font-weight:bold;font-size:11px;color:#3d7d88;">2020</div>
<div style="position:absolute;left:101.00px;top:545.00px;white-space:nowrap;line-height:1;font-family:'Liberation Sans', sans-serif;font-size:7.35px;color:#4a5a60;">Fuente: INDEC. Dirección de Índices de Precios de Consumo.</div>
</div>
</body></html>
